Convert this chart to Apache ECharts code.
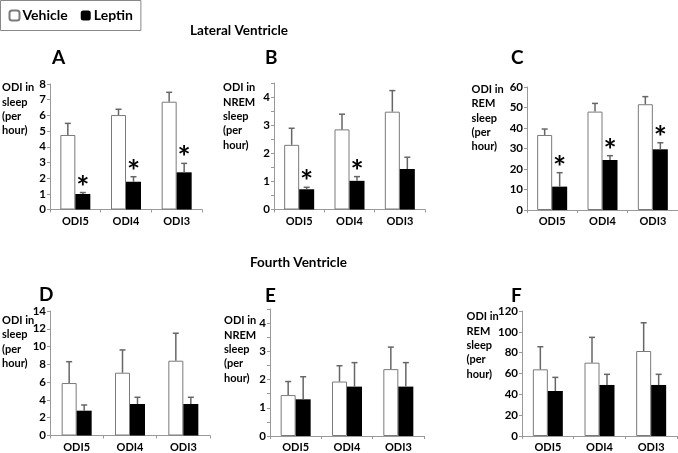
<!DOCTYPE html>
<html><head><meta charset="utf-8">
<script src="https://cdn.jsdelivr.net/npm/echarts@6/dist/echarts.min.js"></script>
<style>html,body{margin:0;padding:0;background:#fff}#c{width:678px;height:453px}</style>
</head><body><div id="c"></div>
<script>
var categories = ['ODI5', 'ODI4', 'ODI3'];
// Panel A: ODI in sleep, lateral ventricle
var aVeh = [4.75, 6.02, 6.87];
var aVehErr = [5.49, 6.39, 7.47];
var aLep = [0.99, 1.77, 2.37];
var aLepErr = [1.08, 2.09, 2.94];
var aSig = [1, 1, 1];
// Panel B: ODI in NREM sleep, lateral ventricle
var bVeh = [2.3, 2.85, 3.48];
var bVehErr = [2.89, 3.39, 4.23];
var bLep = [0.72, 1.02, 1.44];
var bLepErr = [0.79, 1.17, 1.86];
var bSig = [1, 1, 0];
// Panel C: ODI in REM sleep, lateral ventricle
var cVeh = [36.6, 48, 51.6];
var cVehErr = [39.5, 52, 55.3];
var cLep = [11.4, 24.4, 29.6];
var cLepErr = [18.2, 26.5, 32.8];
var cSig = [1, 1, 1];
// Panel D: ODI in sleep, fourth ventricle
var dVeh = [5.9, 7.06, 8.41];
var dVehErr = [8.3, 9.62, 11.5];
var dLep = [2.79, 3.54, 3.54];
var dLepErr = [3.43, 4.3, 4.3];
var dSig = [0, 0, 0];
// Panel E: ODI in NREM sleep, fourth ventricle
var eVeh = [1.45, 1.93, 2.37];
var eVehErr = [1.93, 2.49, 3.15];
var eLep = [1.3, 1.75, 1.75];
var eLepErr = [2.1, 2.6, 2.6];
var eSig = [0, 0, 0];
// Panel F: ODI in REM sleep, fourth ventricle
var fVeh = [64, 70.4, 81.6];
var fVehErr = [85.7, 94.7, 108.7];
var fLep = [43.2, 49, 49];
var fLepErr = [56.3, 59.2, 59.2];
var fSig = [0, 0, 0];

var yMax = [8, 4.5, 60, 14, 4.5, 120];
var yInterval = [1, 0.5, 10, 2, 0.5, 20];
var panelLetters = ['A', 'B', 'C', 'D', 'E', 'F'];
var yNames = [
  'ODI in\nsleep\n(per\nhour)',
  'ODI in\nNREM\nsleep\n(per\nhour)',
  'ODI in\nREM\nsleep\n(per\nhour)',
  'ODI in\nsleep\n(per\nhour)',
  'ODI in\nNREM\nsleep\n(per\nhour)',
  'ODI in\nREM\nsleep\n(per\nhour)'
];
var headers = ['Lateral Ventricle', 'Fourth Ventricle'];
var seriesNames = ['Vehicle', 'Leptin'];

var panels = [
  [aVeh, aVehErr, aLep, aLepErr, aSig],
  [bVeh, bVehErr, bLep, bLepErr, bSig],
  [cVeh, cVehErr, cLep, cLepErr, cSig],
  [dVeh, dVehErr, dLep, dLepErr, dSig],
  [eVeh, eVehErr, eLep, eLepErr, eSig],
  [fVeh, fVehErr, fLep, fLepErr, fSig]
];

var FONT = 'Lato';
var grids = [
  {left: 50, top: 84, width: 152, height: 125.5},
  {left: 274, top: 83, width: 151, height: 126.5},
  {left: 527, top: 87, width: 151, height: 123},
  {left: 50, top: 311, width: 160, height: 124.5},
  {left: 270, top: 309, width: 154, height: 127},
  {left: 522, top: 311, width: 155, height: 125}
];
var letterPos = [[52, 48], [265, 48], [511, 48], [39, 285], [265, 286], [511, 286]];
var namePos = [[2, 80.5], [223, 80.5], [471.5, 82], [2, 313], [224, 313.5], [466.5, 309.5]];
var headerPos = [[190, 22], [250, 254]];

var BARW = 15;
var xAxes = [], yAxes = [], series = [], titles = [];

grids.forEach(function (g, i) {
  xAxes.push({
    gridIndex: i, type: 'category', data: categories, boundaryGap: true,
    axisLine: {lineStyle: {color: '#999', width: 1}},
    axisTick: {show: true, length: 3, lineStyle: {color: '#999'}},
    axisLabel: {color: '#000', fontWeight: 'bold', fontSize: 11, fontFamily: FONT, margin: 6}
  });
  var iv = yInterval[i];
  yAxes.push({
    gridIndex: i, type: 'value', min: 0, max: yMax[i], interval: iv,
    splitLine: {show: false},
    axisLine: {show: true, lineStyle: {color: '#999', width: 1}},
    axisTick: {show: true, length: 3, lineStyle: {color: '#999'}},
    axisLabel: {
      color: '#000', fontWeight: 'bold', fontSize: 11.5, fontFamily: FONT, margin: 4,
      formatter: function (v) { return (Math.abs(v - Math.round(v)) < 1e-9) ? String(Math.round(v)) : ''; }
    }
  });
  var p = panels[i];
  series.push({
    name: seriesNames[0], type: 'bar', xAxisIndex: i, yAxisIndex: i,
    data: p[0], barWidth: BARW, barGap: '0%',
    itemStyle: {color: '#ffffff', borderColor: '#7a7a7a', borderWidth: 1},
    z: 2
  });
  series.push({
    name: seriesNames[1], type: 'bar', xAxisIndex: i, yAxisIndex: i,
    data: p[2], barWidth: BARW, barGap: '0%',
    itemStyle: {color: '#000000'},
    z: 2
  });
  [[p[0], p[1], null, -1], [p[2], p[3], p[4], 1]].forEach(function (set) {
    var vals = set[0], errs = set[1], sig = set[2], side = set[3];
    var data = vals.map(function (v, k) { return [k, v, errs[k], sig ? sig[k] : 0]; });
    series.push({
      type: 'custom', xAxisIndex: i, yAxisIndex: i, data: data, z: 5, silent: true,
      renderItem: function (params, api) {
        var base = api.coord([api.value(0), api.value(1)]);
        var top = api.coord([api.value(0), api.value(2)]);
        var cx = base[0] + side * BARW / 2;
        var children = [
          {type: 'line', shape: {x1: cx, y1: base[1], x2: cx, y2: top[1]}, style: {stroke: '#666', lineWidth: 1.5}},
          {type: 'line', shape: {x1: cx - 3, y1: top[1], x2: cx + 3, y2: top[1]}, style: {stroke: '#666', lineWidth: 1.5}}
        ];
        if (api.value(3)) {
          children.push({type: 'text', style: {text: '*', x: cx, y: top[1] - 5, textAlign: 'center', textVerticalAlign: 'middle', font: 'bold 31px ' + FONT, fill: '#000'}});
        }
        return {type: 'group', children: children};
      }
    });
  });
  titles.push({text: panelLetters[i], left: letterPos[i][0], top: letterPos[i][1], padding: 0,
    textStyle: {fontSize: 19, fontWeight: 'bold', fontFamily: FONT, color: '#000', lineHeight: 20}});
  titles.push({text: yNames[i], left: namePos[i][0], top: namePos[i][1], padding: 0,
    textStyle: {fontSize: 11, fontWeight: 'bold', fontFamily: FONT, color: '#000', lineHeight: 14.4}});
});
headers.forEach(function (h, k) {
  titles.push({text: h, left: headerPos[k][0], top: headerPos[k][1], padding: 0,
    textStyle: {fontSize: 13.5, fontWeight: 'bold', fontFamily: FONT, color: '#000', lineHeight: 17}});
});

var chart = echarts.init(document.getElementById('c'), null, {renderer: 'canvas'});
chart.setOption({
  animation: false,
  title: titles,
  legend: {
    data: seriesNames, left: 0.5, top: 0.5, orient: 'horizontal',
    itemWidth: 10, itemHeight: 10, itemGap: 13,
    padding: [8, 8, 8, 8], borderColor: '#888', borderWidth: 1,
    textStyle: {fontSize: 14, fontWeight: 'bold', fontFamily: FONT, color: '#000', padding: [0, 0, 0, -2]}
  },
  grid: grids,
  xAxis: xAxes,
  yAxis: yAxes,
  series: series
});
</script></body></html>
